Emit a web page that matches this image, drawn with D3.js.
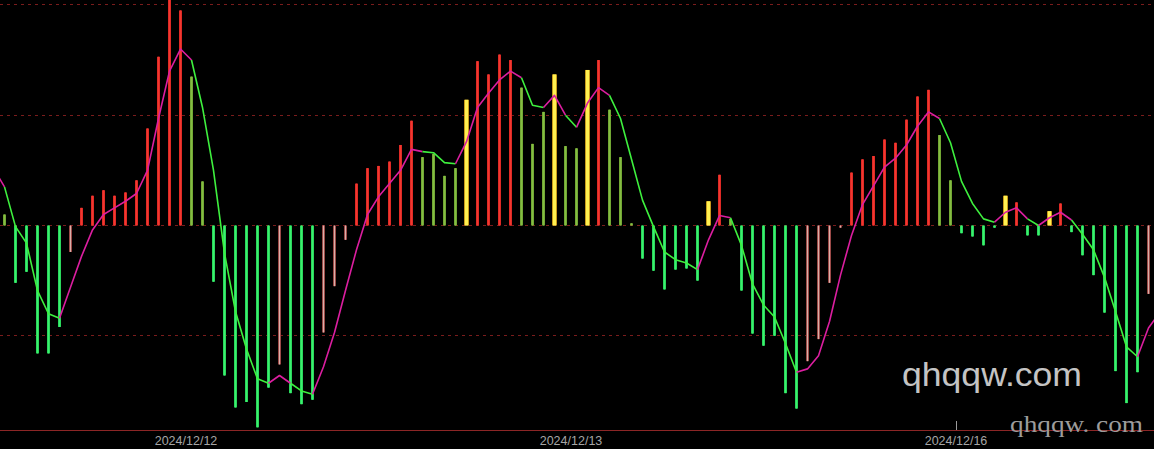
<!DOCTYPE html>
<html><head><meta charset="utf-8">
<script src="https://cdn.jsdelivr.net/npm/d3@7/dist/d3.min.js"></script>
<style>html,body{margin:0;padding:0;background:#000;overflow:hidden}</style>
</head><body><svg id="c" width="1154" height="449"></svg>
<script>
// ---- data ----
const barValues = [
  0.10,-0.52,-0.42,-1.16,-1.16,-0.92,-0.24,0.16,0.27,0.32,
  0.27,0.30,0.41,0.88,1.53,2.10,1.95,1.35,0.40,-0.51,
  -1.36,-1.65,-1.60,-1.83,-1.47,-1.26,-1.52,-1.62,-1.58,-0.97,
  -0.55,-0.13,0.38,0.52,0.54,0.58,0.73,0.95,0.62,0.65,
  0.45,0.52,1.14,1.49,1.37,1.55,1.50,1.25,0.74,1.03,
  1.37,0.72,0.70,1.41,1.50,1.05,0.62,0.02,-0.30,-0.41,
  -0.58,-0.40,-0.39,-0.50,0.22,0.46,0.06,-0.59,-0.98,-1.09,
  -1.00,-1.52,-1.66,-1.23,-1.03,-0.52,-0.02,0.48,0.60,0.63,
  0.78,0.75,0.96,1.17,1.23,0.82,0.41,-0.07,-0.10,-0.18,
  -0.02,0.27,0.21,-0.09,-0.09,0.13,0.20,-0.06,-0.27,-0.45,
  -0.79,-1.32,-1.61,-1.33,-0.62
];
const lineStartIndex = -2;
const lineValues = [
  0.49,0.52,
  0.35,-0.01,-0.16,-0.59,-0.80,-0.84,-0.56,-0.28,-0.04,0.10,
  0.16,0.22,0.29,0.50,0.97,1.40,1.60,1.50,1.07,0.50,
  -0.25,-0.78,-1.12,-1.39,-1.43,-1.36,-1.43,-1.50,-1.53,-1.28,
  -0.97,-0.59,-0.22,0.10,0.26,0.38,0.50,0.69,0.67,0.66,
  0.57,0.56,0.76,1.07,1.20,1.32,1.40,1.34,1.09,1.07,
  1.18,1.00,0.89,1.11,1.25,1.18,0.97,0.60,0.23,-0.01,
  -0.24,-0.31,-0.34,-0.40,-0.13,0.09,0.07,-0.18,-0.53,-0.72,
  -0.83,-1.07,-1.33,-1.30,-1.18,-0.87,-0.45,-0.09,0.19,0.36,
  0.53,0.61,0.73,0.90,1.03,0.97,0.75,0.40,0.20,0.06,
  0.03,0.12,0.16,0.06,0.00,0.07,0.12,0.05,-0.08,-0.22,
  -0.47,-0.78,-1.10,-1.19,-0.93,-0.79
];
const gridLevels = [-1, 0, 1, 2];
const dateLabels = ['2024/12/12', '2024/12/13', '2024/12/16'];
const dateLabelIndex = [16.5, 51.5, 86.5];
const dateTickIndex = [86.5];

// ---- drawing ----
const W = 1154, H = 449;
const svg = d3.select('#c');
svg.append('rect').attr('width', W).attr('height', H).attr('fill', '#000');

const x = d3.scaleLinear().domain([0, barValues.length - 1]).range([4.5, 4.5 + 11 * (barValues.length - 1)]);
const y = d3.scaleLinear().domain([-1, 2]).range([335.8, 4.9]);
const crisp = v => Math.floor(v) + 0.5;

// grid
svg.append('g').selectAll('line').data(gridLevels).join('line')
  .attr('x1', 0).attr('x2', W)
  .attr('y1', d => crisp(y(d))).attr('y2', d => crisp(y(d)))
  .attr('stroke', '#7a1c1c').attr('stroke-width', 1).attr('stroke-dasharray', '3,4');

// axis line
svg.append('line').attr('x1', 0).attr('x2', W).attr('y1', 430.5).attr('y2', 430.5)
  .attr('stroke', '#8c2626').attr('stroke-width', 1);

const lineAt = i => lineValues[i - lineStartIndex];

// bars
const bars = barValues.map((v, i) => {
  const above = v > lineAt(i);
  const prevAbove = i > 0 ? barValues[i - 1] > lineAt(i - 1) : true;
  let kind;
  if (v >= 0) kind = above ? (prevAbove ? 'red' : 'yellow') : 'olive';
  else kind = above ? 'salmon' : 'green';
  return {i, v, kind};
});
const style = {
  red:    {w: 3, outer: '#e02a26', inner: '#f03a30'},
  olive:  {w: 3, outer: '#72a834', inner: '#86bc44'},
  green:  {w: 3, outer: '#2bd85c', inner: '#3cf070'},
  salmon: {w: 3, outer: '#9c4a48', inner: '#d8b0aa'},
  yellow: {w: 5, outer: '#c89a1c', inner: '#fff050'}
};
const y0 = y(0);
const gBars = svg.append('g');
bars.forEach(b => {
  const s = style[b.kind];
  const top = Math.min(y(b.v), y0), bot = Math.max(y(b.v), y0);
  const left = Math.round(x(b.i) - s.w / 2);
  gBars.append('rect').attr('x', left).attr('y', top).attr('width', s.w).attr('height', Math.max(1, bot - top))
    .attr('fill', s.outer);
  gBars.append('rect').attr('x', left + 1).attr('y', top).attr('width', s.w - 2).attr('height', Math.max(1, bot - top))
    .attr('fill', s.inner);
});

// signal line, coloured by direction
const pts = lineValues.map((v, k) => ({idx: k + lineStartIndex, v}));
const segColor = k => { // segment from pts[k] to pts[k+1]
  const rising = pts[k + 1].v > pts[k].v;
  const roseInto = k > 0 ? pts[k].v > pts[k - 1].v : true;
  return (rising || roseInto) ? '#dc1ea0' : '#3ef03e';
};
const lineGen = d3.line().x(d => x(d.idx)).y(d => y(d.v));
let runs = [], cur = null;
for (let k = 0; k < pts.length - 1; k++) {
  const c = segColor(k);
  if (!cur || cur.c !== c) { cur = {c, p: [pts[k]]}; runs.push(cur); }
  cur.p.push(pts[k + 1]);
}
svg.append('g').selectAll('path').data(runs).join('path')
  .attr('d', d => lineGen(d.p)).attr('fill', 'none')
  .attr('stroke', d => d.c).attr('stroke-width', 1.6).attr('stroke-linejoin', 'round');

// date labels
svg.append('g').selectAll('text').data(dateLabels).join('text')
  .attr('x', (d, k) => x(dateLabelIndex[k])).attr('y', 445)
  .attr('text-anchor', 'middle').attr('font-family', 'Liberation Sans, Arial, sans-serif')
  .attr('font-size', 12.5).attr('fill', '#a6a6a6').text(d => d);
svg.append('g').selectAll('line').data(dateTickIndex).join('line')
  .attr('x1', d => crisp(x(d))).attr('x2', d => crisp(x(d)))
  .attr('y1', 421).attr('y2', 430).attr('stroke', '#9a9a9a');

// watermarks
svg.append('text').attr('x', 902).attr('y', 386).attr('font-family', 'Liberation Sans, Arial, sans-serif')
  .attr('font-size', 34).attr('fill', '#c4c4c4').attr('textLength', 180).attr('lengthAdjust', 'spacingAndGlyphs')
  .text('qhqqw.com');
svg.append('text').attr('x', 1010).attr('y', 432).attr('font-family', 'Liberation Serif, Times New Roman, serif')
  .attr('font-size', 23).attr('fill', '#9c9c9c').attr('textLength', 133).attr('lengthAdjust', 'spacingAndGlyphs')
  .text('qhqqw. com');
</script>
</body></html>
